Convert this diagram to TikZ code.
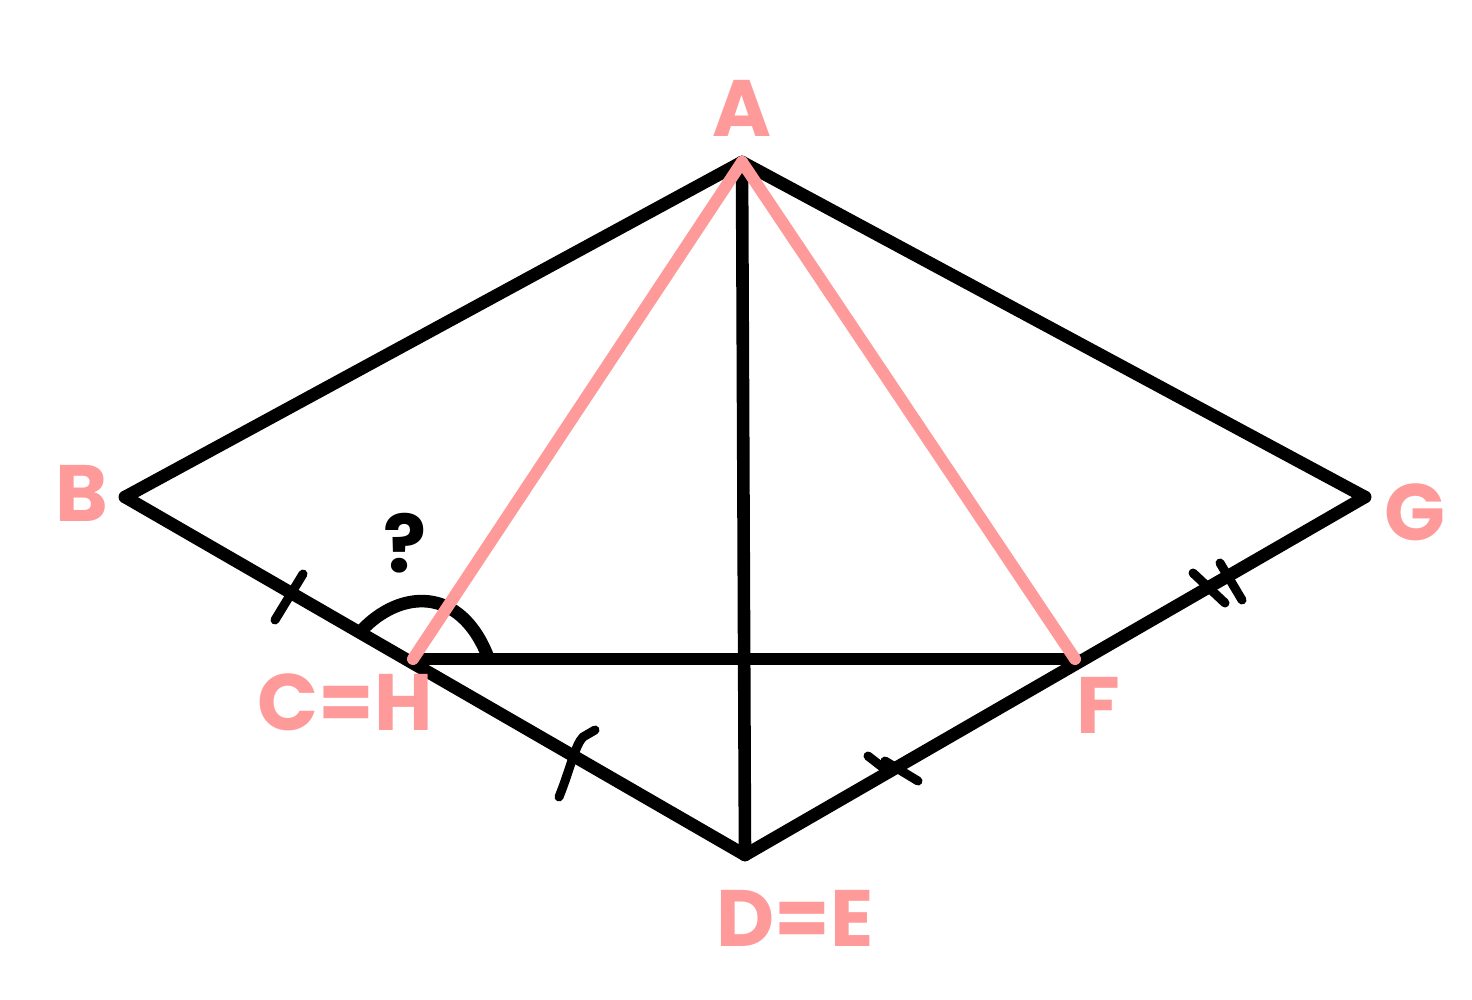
\documentclass[tikz,border=0pt]{standalone}
\usepackage{fontspec}
\newfontfamily\lab{Poppins}
\begin{document}
\begin{tikzpicture}[x=0.5pt,y=-0.5pt,
  edge/.style={line width=6.3pt,line cap=round,line join=round,black},
  pinkedge/.style={line width=6pt,line cap=round,color=pinkc},
  tick/.style={line width=4.5pt,line cap=round,black},
  lbl/.style={text=pinkc,font=\lab\bfseries\fontsize{40}{40}\selectfont,inner sep=0pt}]
\definecolor{pinkc}{HTML}{FF9A9A}
\useasboundingbox (0,0) rectangle (1472,1000);
\coordinate (A) at (742,162);
\coordinate (B) at (125,497);
\coordinate (G) at (1365,497);
\coordinate (D) at (745,855);
\coordinate (H) at (413,659);
\coordinate (F) at (1075,659);
\draw[edge] (B) -- (A) -- (G);
\draw[edge] (B) -- (D) -- (G);
\draw[edge] (A) -- (D);
\draw[edge] (H) -- (F);
% angle arc
\coordinate (a1) at (362,630);
\coordinate (a2) at (488,657);
\draw[edge] (a1) .. controls (400,590) and (460,585) .. (a2);
% ticks
\coordinate (t1a) at (275,620); \coordinate (t1b) at (303,574);
\draw[tick] (t1a) -- (t1b);
\coordinate (t2a) at (559,797); \coordinate (t2b) at (583,737); \coordinate (t2c) at (595,730);
\draw[tick] (t2a) .. controls (570,770) and (575,745) .. (t2b) -- (t2c);
\coordinate (t3a) at (868,756); \coordinate (t3b) at (886,770);
\coordinate (t3c) at (885,761); \coordinate (t3d) at (918,781);
\draw[tick] (t3a) -- (t3b);
\draw[tick] (t3c) -- (t3d);
\coordinate (t4a) at (1193,573); \coordinate (t4b) at (1225,603);
\coordinate (t4c) at (1220,563); \coordinate (t4d) at (1242,600);
\draw[tick] (t4a) -- (t4b);
\draw[tick] (t4c) -- (t4d);
% pink lines
\draw[pinkedge] (A) -- (H);
\draw[pinkedge] (A) -- (F);
% labels
\node[lbl] (lA) at (742,108) {A};
\node[lbl] (lB) at (82,493) {B};
\node[lbl] (lG) at (1415,512) {G};
\node[lbl] (lCH) at (345,702) {C=H};
\node[lbl] (lF) at (1098,705) {F};
\node[lbl] (lDE) at (795,918) {D=E};
\node[inner sep=0pt,font=\lab\bfseries\fontsize{40}{40}\selectfont] (q) at (405,543) {?};
\end{tikzpicture}
\end{document}
